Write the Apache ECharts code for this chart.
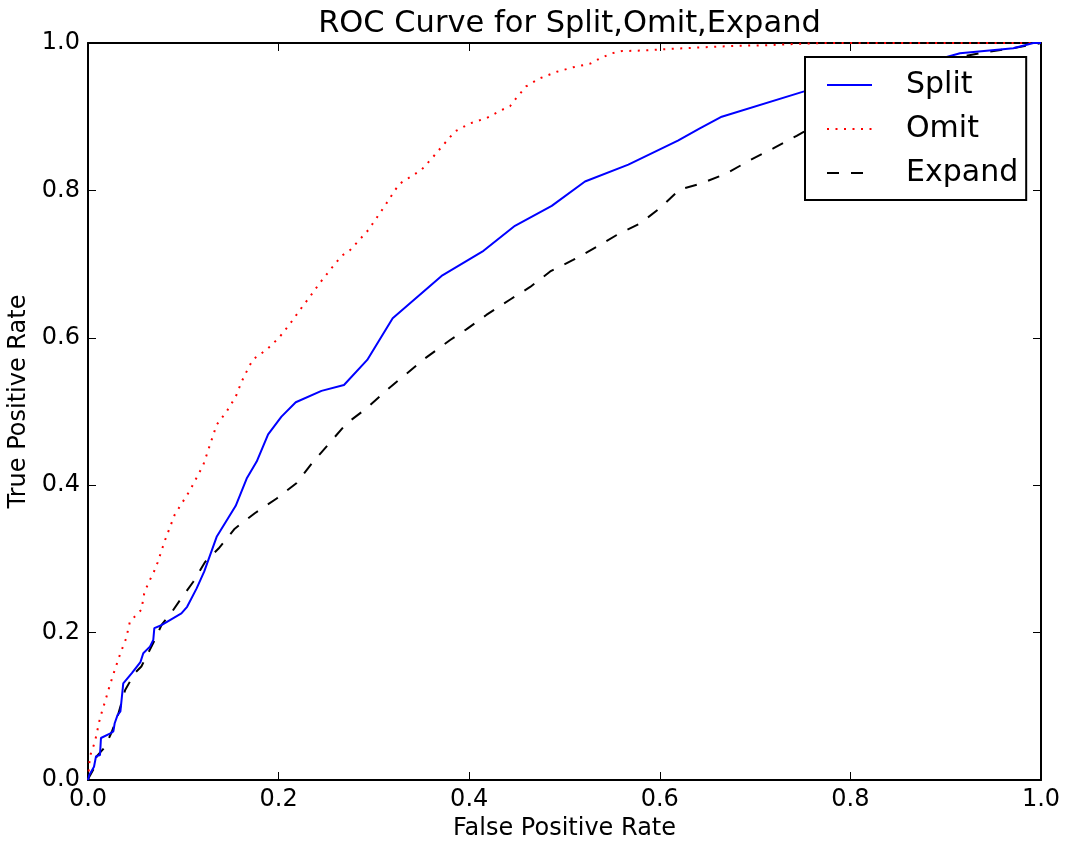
<!DOCTYPE html>
<html>
<head>
<meta charset="utf-8">
<script src="https://cdn.jsdelivr.net/npm/echarts@6/dist/echarts.min.js"></script>
<style>
html,body{margin:0;padding:0;background:#fff;}
#chart{width:1067px;height:843px;}
</style>
</head>
<body>
<div id="chart"></div>
<script>
const titleText = 'ROC Curve for Split,Omit,Expand';
const xName = 'False Positive Rate';
const yName = 'True Positive Rate';
const seriesNames = ['Split', 'Omit', 'Expand'];
const tickValues = [0.0, 0.2, 0.4, 0.6, 0.8, 1.0];

const splitData = [[0,0],[0.0014,0.0068],[0.0063,0.018],[0.0084,0.032],[0.0126,0.034],[0.0136,0.057],[0.023,0.063],[0.0266,0.066],[0.028,0.077],[0.031,0.088],[0.034,0.093],[0.037,0.131],[0.046,0.145],[0.055,0.16],[0.058,0.172],[0.065,0.181],[0.0685,0.19],[0.0696,0.206],[0.077,0.21],[0.086,0.217],[0.098,0.226],[0.104,0.235],[0.114,0.26],[0.122,0.283],[0.13,0.312],[0.135,0.33],[0.155,0.372],[0.1665,0.409],[0.177,0.432],[0.189,0.469],[0.203,0.493],[0.218,0.5125],[0.245,0.528],[0.2686,0.536],[0.293,0.57],[0.3197,0.6265],[0.371,0.684],[0.415,0.718],[0.448,0.752],[0.4866,0.779],[0.5215,0.812],[0.567,0.835],[0.619,0.8675],[0.642,0.884],[0.665,0.9],[0.7506,0.934],[0.8,0.948],[0.85,0.962],[0.901,0.981],[0.915,0.986],[0.971,0.993],[0.992,1.0],[1,1]];

const omitData = [[0,0],[0.002,0.032],[0.0073,0.052],[0.0126,0.084],[0.0178,0.106],[0.023,0.129],[0.028,0.149],[0.034,0.172],[0.04,0.192],[0.044,0.215],[0.056,0.231],[0.059,0.253],[0.0626,0.265],[0.07,0.285],[0.073,0.295],[0.081,0.326],[0.091,0.36],[0.107,0.393],[0.121,0.4275],[0.135,0.482],[0.1455,0.5],[0.155,0.52],[0.161,0.54],[0.169,0.561],[0.1735,0.571],[0.1875,0.584],[0.2004,0.6],[0.212,0.619],[0.2225,0.638],[0.233,0.656],[0.243,0.674],[0.2546,0.693],[0.266,0.711],[0.275,0.719],[0.294,0.746],[0.312,0.78],[0.322,0.8],[0.327,0.809],[0.35,0.828],[0.3625,0.846],[0.373,0.862],[0.385,0.88],[0.401,0.891],[0.418,0.898],[0.434,0.909],[0.443,0.9145],[0.448,0.923],[0.4596,0.941],[0.474,0.952],[0.492,0.961],[0.509,0.967],[0.527,0.972],[0.537,0.979],[0.5495,0.986],[0.56,0.989],[0.586,0.99],[0.604,0.9915],[0.642,0.994],[0.677,0.996],[0.712,0.997],[0.758,0.9995],[0.78,1.0],[1,1]];

const expandData = [[0,0],[0.0014,0.0045],[0.0073,0.018],[0.009,0.032],[0.018,0.045],[0.025,0.0655],[0.032,0.0905],[0.039,0.122],[0.049,0.145],[0.056,0.154],[0.063,0.172],[0.07,0.19],[0.077,0.21],[0.088,0.228],[0.0965,0.244],[0.1105,0.269],[0.123,0.296],[0.137,0.314],[0.154,0.341],[0.175,0.362],[0.198,0.382],[0.219,0.403],[0.2364,0.432],[0.254,0.458],[0.2715,0.484],[0.292,0.504],[0.3134,0.529],[0.3326,0.5495],[0.3536,0.572],[0.38,0.597],[0.397,0.6115],[0.418,0.631],[0.443,0.652],[0.464,0.669],[0.485,0.69],[0.509,0.7056],[0.534,0.7236],[0.5548,0.7395],[0.579,0.755],[0.6,0.7757],[0.621,0.8014],[0.642,0.8087],[0.67,0.823],[0.6946,0.841],[0.719,0.857],[0.7436,0.874],[0.752,0.88],[0.8,0.91],[0.85,0.945],[0.884,0.968],[0.915,0.981],[0.9395,0.987],[0.971,0.993],[0.988,0.997],[1,1]];

const FONT = 'DejaVu Sans';
const chart = echarts.init(document.getElementById('chart'), null, {renderer: 'canvas'});

function axisBase(extra) {
  return Object.assign({
    type: 'value', min: 0, max: 1, interval: 0.2,
    axisLine: {show: true, onZero: false, lineStyle: {color: '#000', width: 2}},
    axisTick: {show: true, inside: true, length: 8, lineStyle: {color: '#000', width: 1}},
    splitLine: {show: false}
  }, extra);
}

const option = {
  backgroundColor: '#fff',
  animation: false,
  title: {
    text: titleText, left: 564.5, textAlign: 'center', top: 4,
    textStyle: {fontFamily: FONT, fontSize: 30.5, fontWeight: 'normal', color: '#000'}
  },
  grid: {left: 88, right: 26, top: 43, bottom: 63, containLabel: false, outerBoundsMode: 'none'},
  legend: {
    data: seriesNames, orient: 'vertical', left: 805, top: 57,
    itemWidth: 45, itemHeight: 14, itemGap: 14,
    padding: [13, 8, 12, 21],
    backgroundColor: '#fff', borderColor: '#000', borderWidth: 2, borderRadius: 0,
    itemStyle: {opacity: 0},
    textStyle: {fontFamily: FONT, fontSize: 30, color: '#000', padding: [0, 0, 0, 29]}
  },
  xAxis: [
    axisBase({position: 'bottom', name: xName, nameLocation: 'middle', nameGap: 36,
      nameTextStyle: {fontFamily: FONT, fontSize: 24, color: '#000'},
      axisLabel: {fontFamily: FONT, fontSize: 24, color: '#000', margin: 8,
        formatter: v => v.toFixed(1)}}),
    axisBase({position: 'top', axisLabel: {show: false}})
  ],
  yAxis: [
    axisBase({position: 'left', name: yName, nameLocation: 'middle', nameGap: 53,
      nameTextStyle: {fontFamily: FONT, fontSize: 24, color: '#000', padding: [0, 0, 0, 20]},
      axisLabel: {fontFamily: FONT, fontSize: 24, color: '#000', margin: 8,
        formatter: v => v.toFixed(1)}}),
    axisBase({position: 'right', axisLabel: {show: false}})
  ],
  series: [
    {name: seriesNames[0], type: 'line', data: splitData, showSymbol: false, symbol: 'none',
      lineStyle: {color: '#0000ff', width: 2}, itemStyle: {color: '#0000ff'}, z: 3},
    {name: seriesNames[1], type: 'line', data: omitData, showSymbol: false, symbol: 'none',
      lineStyle: {color: '#ff0000', width: 2, type: [2, 6.5]}, itemStyle: {color: '#ff0000'}, z: 2},
    {name: seriesNames[2], type: 'line', data: expandData, showSymbol: false, symbol: 'none',
      lineStyle: {color: '#000000', width: 2, type: [12, 12]}, itemStyle: {color: '#000'}, z: 2}
  ]
};
chart.setOption(option);
</script>
</body>
</html>
